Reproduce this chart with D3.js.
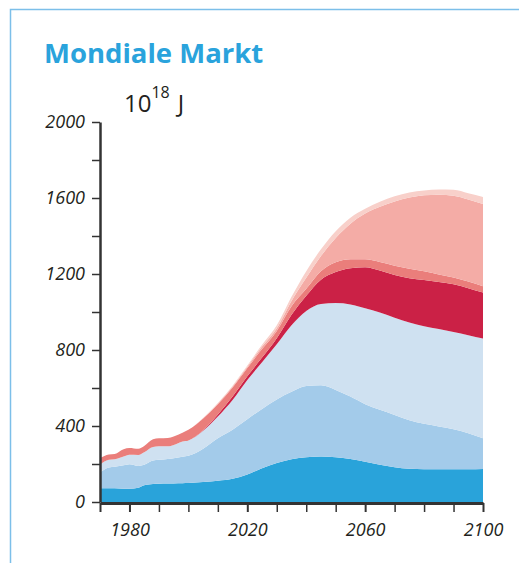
<!doctype html>
<html lang="en">
<head>
  <meta charset="utf-8">
  <style>
    body {
      margin: 0;
      background-color: white;
    }
    svg {
      display: block;
      background-color: white;
    }
    .frame {
      fill: none;
      stroke: #7cbfe9;
      stroke-width: 1.5px;
    }
    .title {
      font-family: "Open Sans", sans-serif;
      font-weight: bold;
      font-size: 27.5px;
      fill: #2aa3dc;
    }
    .unit {
      font-family: "Open Sans", sans-serif;
      font-size: 24px;
      fill: #231f20;
    }
    .axis text {
      font-family: "Open Sans", sans-serif;
      font-style: italic;
      font-size: 18px;
      fill: #231f20;
    }
    .axis path, .axis line {
      stroke: #333;
    }
  </style>
</head>
<body>
  <script src="https://d3js.org/d3.v7.min.js"></script>
<script>
var width = 519,
height = 563;

// years
var years = [1970, 1973, 1975, 1978, 1980, 1983, 1985, 1988, 1990, 1993, 1995, 1998, 2000,
  2005, 2010, 2015, 2020, 2025, 2030, 2035, 2040, 2045, 2050, 2055, 2060, 2065, 2070,
  2075, 2080, 2085, 2090, 2095, 2100];

// layer values, bottom to top (10^18 J)
var darkBlue = [72, 72, 72, 70, 70, 75, 88, 95, 96, 97, 98, 99, 100,
  105, 112, 122, 145, 178, 205, 225, 236, 240, 236, 226, 212, 196, 183,
  175, 173, 173, 173, 173, 174];
var midBlue = [83, 110, 114, 123, 129, 115, 108, 123, 126, 129, 132, 139, 143,
  175, 223, 258, 290, 312, 335, 355, 374, 374, 354, 329, 303, 289, 275,
  255, 239, 225, 210, 189, 161];
var lightBlue = [41, 40, 39, 47, 50, 58, 66, 72, 71, 67, 70, 80, 81,
  95, 115, 157, 207, 245, 290, 350, 395, 428, 457, 485, 505, 512, 512,
  515, 513, 512, 512, 516, 525];
var crimson = [0, 0, 0, 0, 0, 0, 0, 0, 0, 0, 0, 0, 0,
  3, 10, 18, 20, 25, 32, 55, 80, 128, 163, 190, 215, 221, 225,
  233, 243, 248, 251, 247, 242];
var salmon = [34, 28, 28, 38, 35, 32, 33, 40, 42, 44, 45, 47, 56,
  62, 55, 48, 43, 45, 38, 45, 37, 45, 52, 48, 42, 45, 49,
  50, 46, 40, 36, 35, 34];
var pink = [0, 0, 0, 0, 0, 0, 0, 0, 0, 0, 0, 0, 0,
  1, 3, 5, 7, 13, 15, 28, 58, 80, 128, 187, 241, 291, 337,
  374, 400, 419, 430, 432, 432];
var paleRose = [0, 0, 0, 0, 0, 0, 0, 0, 0, 0, 0, 0, 0,
  1, 3, 4, 6, 10, 15, 22, 35, 35, 35, 31, 25, 26, 28,
  27, 26, 28, 31, 33, 37];

var keys = ["darkBlue", "midBlue", "lightBlue", "crimson", "salmon", "pink", "paleRose"];
var colors = ["#29a3da", "#a3cbea", "#cfe1f1", "#cb2146", "#ea7e7b", "#f4aca6", "#f8d0ca"];

var yTicks = d3.range(0, 2001, 200);
var yLabels = [0, 400, 800, 1200, 1600, 2000];
var xTicks = d3.range(1970, 2101, 10);
var xLabels = [1980, 2020, 2060, 2100];

var rows = years.map(function(yr, i) {
  return {
    year: yr,
    darkBlue: darkBlue[i],
    midBlue: midBlue[i],
    lightBlue: lightBlue[i],
    crimson: crimson[i],
    salmon: salmon[i],
    pink: pink[i],
    paleRose: paleRose[i]
  };
});

var x = d3.scaleLinear().domain([1970, 2100]).range([100, 483]);
var y = d3.scaleLinear().domain([0, 2000]).range([502, 122]);

var svg = d3.select("body").append("svg")
.attr("width", width)
.attr("height", height);

svg.append("rect")
.attr("class", "frame")
.attr("x", 10.5)
.attr("y", 9.5)
.attr("width", 560)
.attr("height", 600);

svg.append("text")
.attr("class", "title")
.attr("x", 44)
.attr("y", 63)
.text("Mondiale Markt");

var unit = svg.append("text")
.attr("class", "unit")
.attr("x", 124)
.attr("y", 112);
unit.append("tspan").text("10");
unit.append("tspan").attr("dy", -14).style("font-size", "16px").text("18");
unit.append("tspan").attr("dy", 14).attr("dx", 8).text("J");

var stack = d3.stack().keys(keys);
var series = stack(rows);

var area = d3.area()
.curve(d3.curveMonotoneX)
.x(function(d) { return x(d.data.year); })
.y0(function(d) { return y(d[0]); })
.y1(function(d) { return y(d[1]); });

svg.append("g")
.selectAll("path")
.data(series)
.enter().append("path")
.attr("fill", function(d, i) { return colors[i]; })
.attr("d", area);

// y axis
var yAxis = svg.append("g")
.attr("class", "axis")
.attr("transform", "translate(100,0)")
.call(d3.axisLeft(y)
  .tickValues(yTicks)
  .tickSize(8)
  .tickSizeOuter(0)
  .tickPadding(7)
  .tickFormat(function(d) { return yLabels.indexOf(d) >= 0 ? d : ""; }));
yAxis.select(".domain").attr("stroke-width", 2.5);
yAxis.selectAll(".tick line").attr("stroke-width", 1.5);

// x axis
var xAxis = svg.append("g")
.attr("class", "axis")
.attr("transform", "translate(0,503)")
.call(d3.axisBottom(x)
  .tickValues(xTicks)
  .tickSize(9)
  .tickSizeOuter(0)
  .tickPadding(11)
  .tickFormat(function(d) { return xLabels.indexOf(d) >= 0 ? d : ""; }));
xAxis.select(".domain").attr("stroke-width", 3);
xAxis.selectAll(".tick line")
.attr("stroke-width", function(d) { return (xLabels.indexOf(d) >= 0 || d === 1970) ? 2 : 1.5; })
.attr("stroke", function(d) { return (xLabels.indexOf(d) >= 0 || d === 1970) ? "#333" : "#777"; });

</script>
</body>
</html>
